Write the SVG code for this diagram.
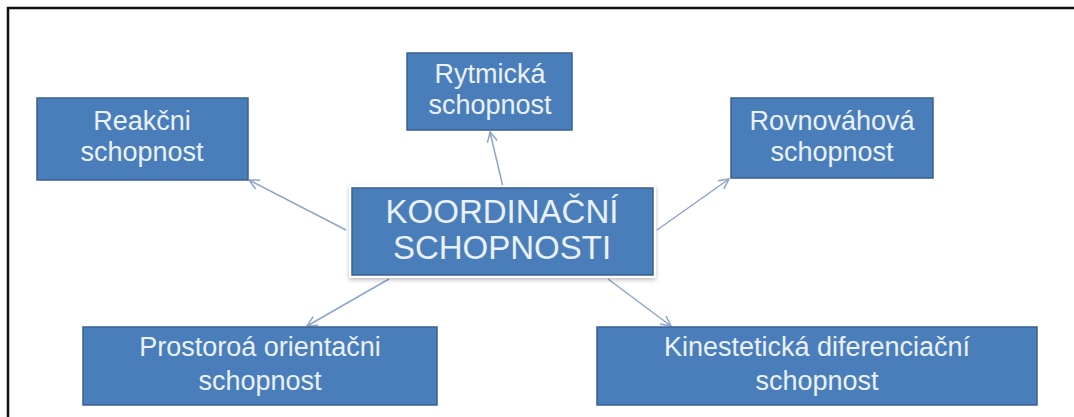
<svg xmlns="http://www.w3.org/2000/svg" width="1074" height="417" viewBox="0 0 1074 417">
<defs>
<style>
.box{fill:#4a7ebb;stroke:#38608f;stroke-width:1.5}
.t{font-family:"Liberation Sans",Arial,sans-serif;fill:#eaf1f9;text-anchor:middle}
.s{font-size:27px}
.b{font-size:33px}
.c{stroke:#8da5c8;stroke-width:1.5;fill:none;marker-end:url(#ah)}
</style>
<marker id="ah" markerWidth="14" markerHeight="14" refX="11" refY="7" orient="auto" markerUnits="userSpaceOnUse">
<path d="M1,2 L11,7 L1,12" fill="none" stroke="#8da5c8" stroke-width="1.5"/>
</marker>
<filter id="sh" x="-5%" y="-10%" width="110%" height="130%">
<feDropShadow dx="0" dy="2" stdDeviation="2" flood-color="#000" flood-opacity="0.25"/>
</filter>
</defs>
<rect width="1074" height="417" fill="#fff"/>
<path d="M8,417 L8,8 L1074,8" fill="none" stroke="#111" stroke-width="2.5"/>
<g id="connectors">
<line class="c" x1="346" y1="230" x2="249" y2="180"/>
<line class="c" x1="503" y1="187" x2="490" y2="132"/>
<line class="c" x1="657" y1="230" x2="729" y2="179"/>
<line class="c" x1="389" y1="279" x2="307" y2="326"/>
<line class="c" x1="608" y1="279" x2="671" y2="326"/>
</g>
<g id="center">
<rect x="349" y="185" width="307" height="93" fill="#fff" filter="url(#sh)"/>
<rect class="box" x="352" y="188" width="301" height="87"/>
<text class="t b" x="502" y="223">KOORDINAČNÍ</text>
<text class="t b" x="502" y="259">SCHOPNOSTI</text>
</g>
<g id="reakcni">
<rect class="box" x="37" y="98" width="211" height="82"/>
<text class="t s" x="142" y="130">Reakčni</text>
<text class="t s" x="142" y="161">schopnost</text>
</g>
<g id="rytmicka">
<rect class="box" x="407" y="53" width="165" height="77"/>
<text class="t s" x="490" y="83">Rytmická</text>
<text class="t s" x="490" y="114">schopnost</text>
</g>
<g id="rovnovahova">
<rect class="box" x="731" y="98" width="202" height="80"/>
<text class="t s" x="832" y="130">Rovnováhová</text>
<text class="t s" x="832" y="161">schopnost</text>
</g>
<g id="prostoroa">
<rect class="box" x="83" y="327" width="354" height="78"/>
<text class="t s" x="260" y="356">Prostoroá orientačni</text>
<text class="t s" x="260" y="390">schopnost</text>
</g>
<g id="kinesteticka">
<rect class="box" x="597" y="327" width="440" height="78"/>
<text class="t s" x="817" y="356">Kinestetická diferenciační</text>
<text class="t s" x="817" y="390">schopnost</text>
</g>
</svg>
